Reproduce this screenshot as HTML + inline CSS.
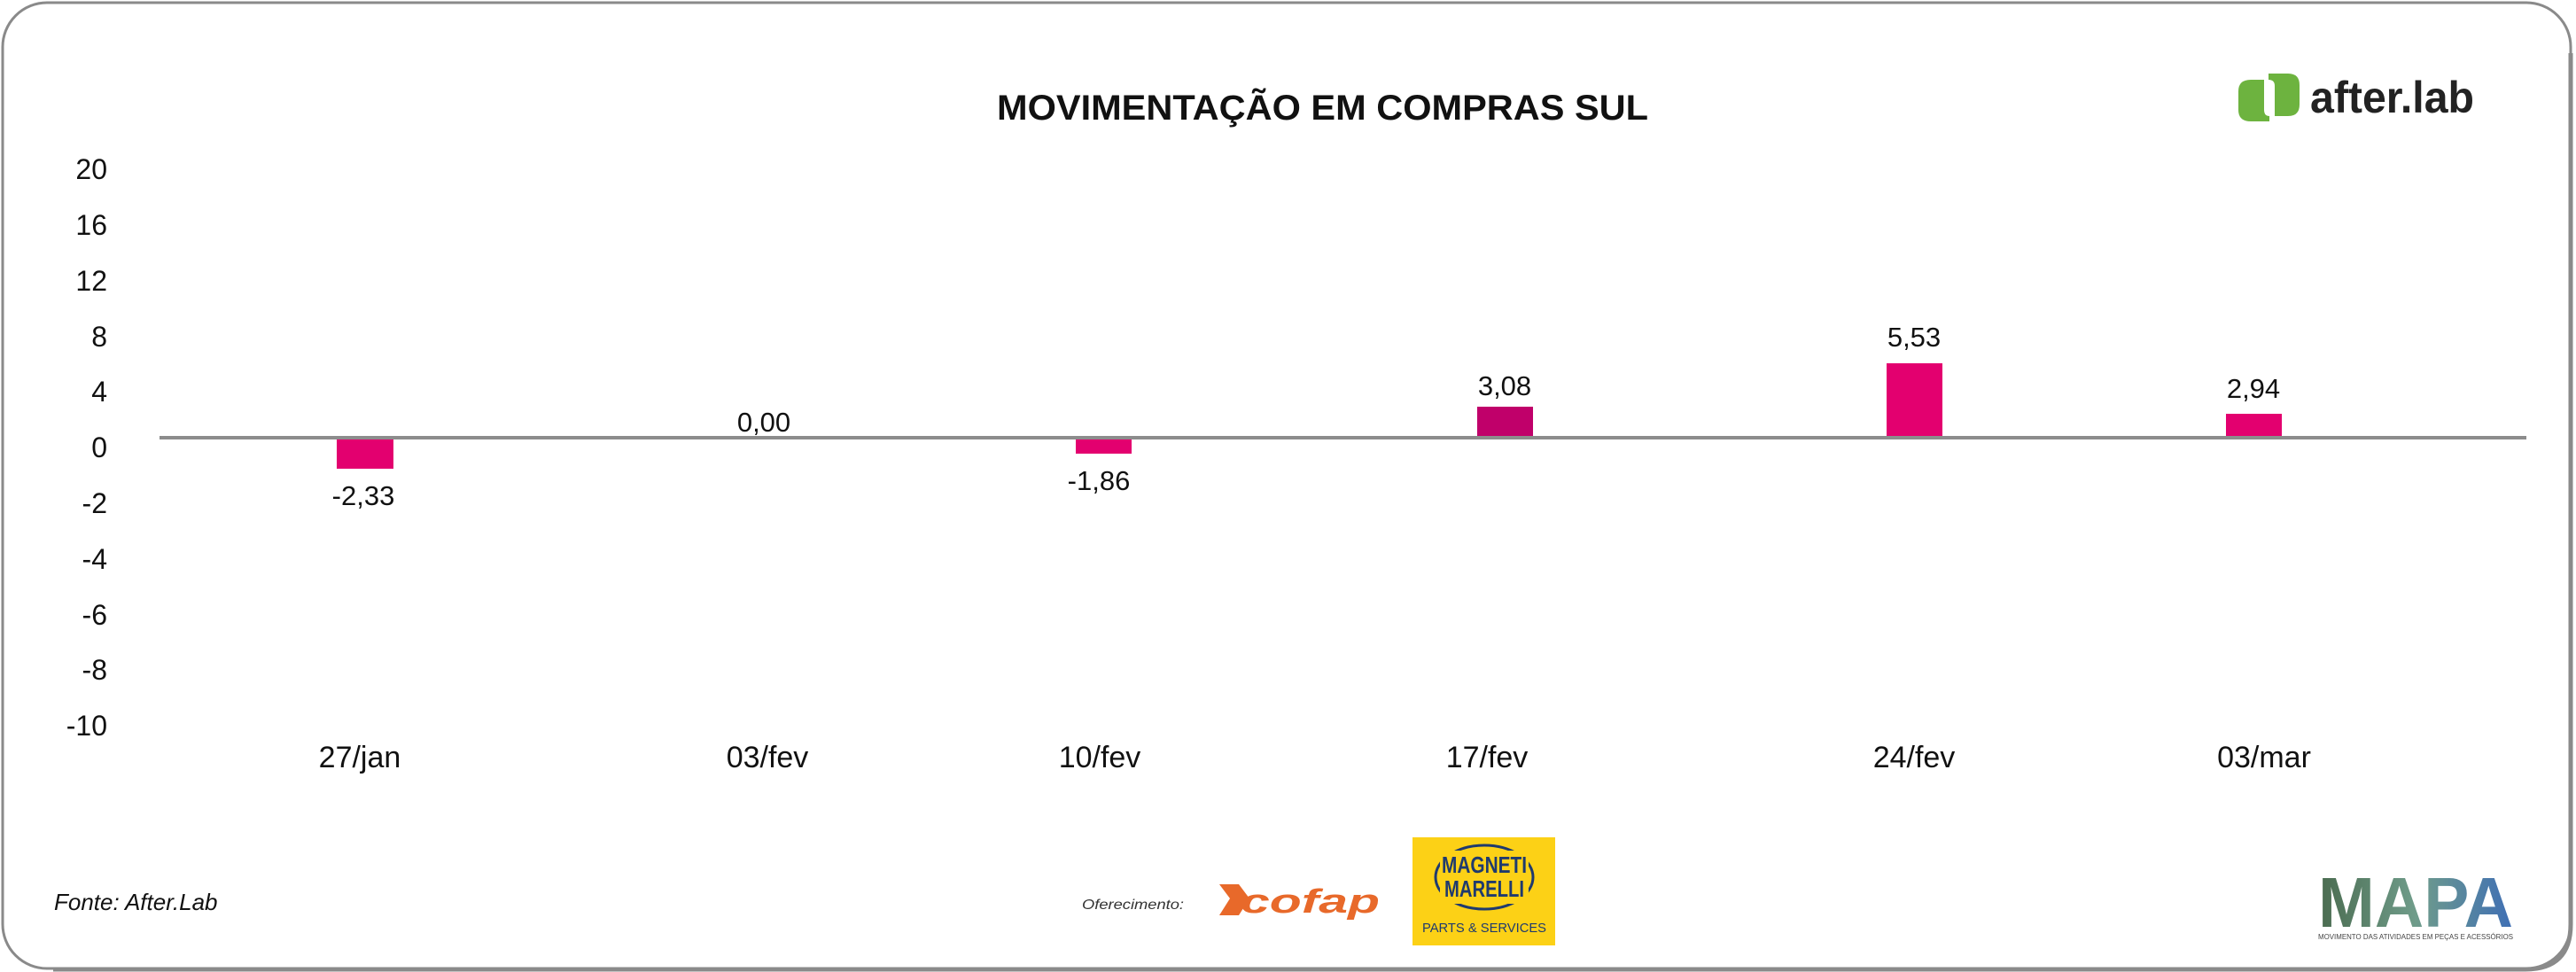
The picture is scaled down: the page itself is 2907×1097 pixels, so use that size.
<!DOCTYPE html>
<html><head><meta charset="utf-8"><style>
html,body{margin:0;padding:0;background:#fff;}
svg{display:block;}
text{font-family:"Liberation Sans",sans-serif;}
</style></head><body>
<svg width="2907" height="1097" viewBox="0 0 2907 1097" xmlns="http://www.w3.org/2000/svg">
<rect x="0" y="0" width="2907" height="1097" fill="#fff"/>
<rect x="3" y="3" width="2898" height="1090" rx="50" ry="50" fill="none" stroke="#8a8a8a" stroke-width="3"/>
<path d="M2901 60 V1043 Q2901 1094 2850 1094 H60" fill="none" stroke="#8a8a8a" stroke-width="5"/>

<text x="1125" y="135" font-size="40" font-weight="bold" textLength="735" lengthAdjust="spacingAndGlyphs" fill="#111">MOVIMENTAÇÃO EM COMPRAS SUL</text>

<!-- after.lab logo -->
<g fill="#6db33f">
<path d="M2560 83 H2582 Q2595 83 2595 96 V118 Q2595 131 2582 131 H2567 V97 Q2567 90 2560 90 Z"/>
<path d="M2561 137 H2540 Q2526 137 2526 124 V103 Q2526 90 2540 90 H2555 V124 Q2555 131 2561 131 Z"/>
</g>
<text x="2607" y="127" font-size="50" font-weight="bold" textLength="185" lengthAdjust="spacingAndGlyphs" fill="#222">after.lab</text>

<!-- y tick labels -->
<g font-size="32" fill="#111" text-anchor="end">
<text x="121" y="202">20</text>
<text x="121" y="265">16</text>
<text x="121" y="328">12</text>
<text x="121" y="391">8</text>
<text x="121" y="453">4</text>
<text x="121" y="516">0</text>
<text x="121" y="579">-2</text>
<text x="121" y="642">-4</text>
<text x="121" y="705">-6</text>
<text x="121" y="767">-8</text>
<text x="121" y="830">-10</text>
</g>

<!-- bars -->
<rect x="380" y="494" width="64" height="35" fill="#e3006f"/>
<rect x="1214" y="494" width="63" height="18" fill="#e3006f"/>
<rect x="1667" y="459" width="63" height="35" fill="#c0006a"/>
<rect x="2129" y="410" width="63" height="84" fill="#e3006f"/>
<rect x="2512" y="467" width="63" height="27" fill="#e3006f"/>
<rect x="180" y="492" width="2671" height="4" fill="#8c8c8c"/>

<!-- value labels -->
<g font-size="31" fill="#111" text-anchor="middle">
<text x="410" y="570">-2,33</text>
<text x="862" y="487">0,00</text>
<text x="1240" y="553">-1,86</text>
<text x="1698" y="446">3,08</text>
<text x="2160" y="391">5,53</text>
<text x="2543" y="449">2,94</text>
</g>

<!-- x labels -->
<g font-size="34" fill="#111" text-anchor="middle">
<text x="406" y="866">27/jan</text>
<text x="866" y="866">03/fev</text>
<text x="1241" y="866">10/fev</text>
<text x="1678" y="866">17/fev</text>
<text x="2160" y="866">24/fev</text>
<text x="2555" y="866">03/mar</text>
</g>

<text x="61" y="1027" font-size="26" font-style="italic" fill="#111">Fonte: After.Lab</text>

<text x="1221" y="1026" font-size="16" font-style="italic" fill="#333" textLength="115" lengthAdjust="spacingAndGlyphs">Oferecimento:</text>
<!-- cofap -->
<path d="M1376 998 H1398 L1410 1014 L1398 1033 H1376 L1388 1014 Z" fill="#e8692a"/>
<text x="1400" y="1030" font-size="38" font-weight="bold" font-style="italic" fill="#e8692a" textLength="157" lengthAdjust="spacingAndGlyphs">cofap</text>

<!-- Magneti Marelli -->
<rect x="1594" y="945" width="161" height="122" fill="#fcd116"/>
<ellipse cx="1675" cy="990" rx="55" ry="36" fill="none" stroke="#1f3a6e" stroke-width="3"/>
<rect x="1625" y="960" width="100" height="60" fill="#fcd116"/>
<text x="1675" y="985" font-size="26" font-weight="bold" fill="#1f3a6e" text-anchor="middle" textLength="96" lengthAdjust="spacingAndGlyphs">MAGNETI</text>
<text x="1675" y="1012" font-size="26" font-weight="bold" fill="#1f3a6e" text-anchor="middle" textLength="90" lengthAdjust="spacingAndGlyphs">MARELLI</text>
<text x="1675" y="1052" font-size="15" fill="#1f3a6e" text-anchor="middle" textLength="140" lengthAdjust="spacingAndGlyphs">PARTS &amp; SERVICES</text>

<!-- MAPA -->
<defs><linearGradient id="mg" x1="0" x2="1" y1="0" y2="0">
<stop offset="0" stop-color="#4a6b4f"/><stop offset="0.5" stop-color="#6f9c8a"/><stop offset="1" stop-color="#3f6fb5"/></linearGradient></defs>
<text x="2616" y="1046" font-size="80" font-weight="bold" fill="url(#mg)" textLength="220" lengthAdjust="spacingAndGlyphs">MAPA</text>
<text x="2616" y="1060" font-size="8" fill="#444" textLength="220" lengthAdjust="spacingAndGlyphs">MOVIMENTO DAS ATIVIDADES EM PEÇAS E ACESSÓRIOS</text>
</svg>
</body></html>
